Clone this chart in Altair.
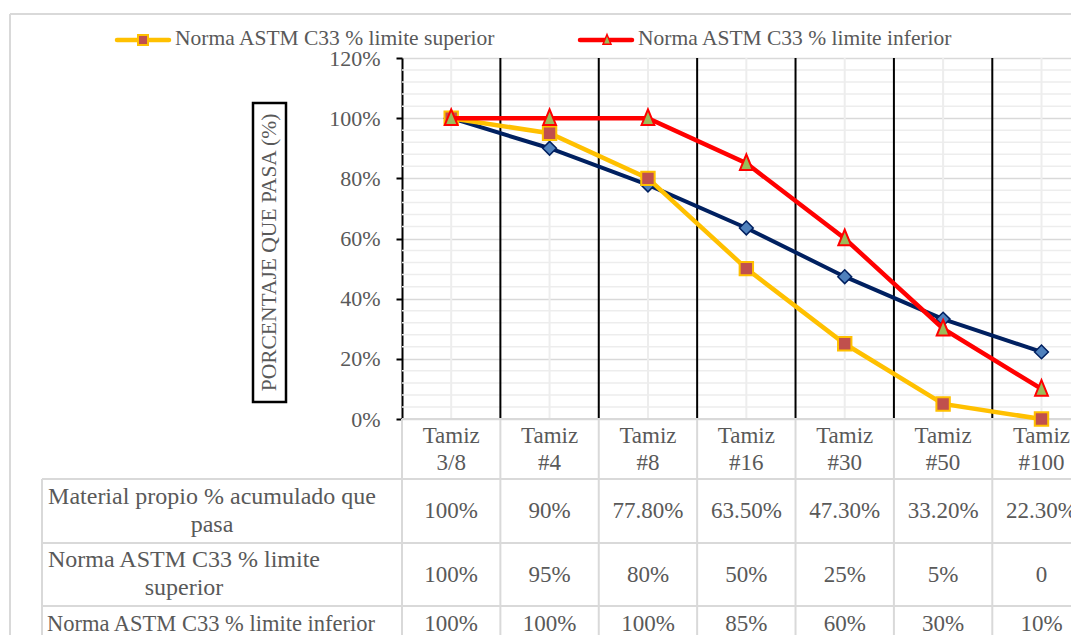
import altair as alt
import pandas as pd

# ---------------- data ----------------
categories = ["Tamiz\n3/8", "Tamiz\n#4", "Tamiz\n#8", "Tamiz\n#16", "Tamiz\n#30", "Tamiz\n#50", "Tamiz\n#100"]
material = [100, 90, 77.8, 63.5, 47.3, 33.2, 22.3]
superior = [100, 95, 80, 50, 25, 5, 0]
inferior = [100, 100, 100, 85, 60, 30, 10]
material_labels = ["100%", "90%", "77.80%", "63.50%", "47.30%", "33.20%", "22.30%"]
superior_labels = ["100%", "95%", "80%", "50%", "25%", "5%", "0"]
inferior_labels = ["100%", "100%", "100%", "85%", "60%", "30%", "10%"]
row_labels = ["Material propio % acumulado que\npasa", "Norma ASTM C33 % limite\nsuperior", "Norma ASTM C33 % limite inferior"]
legend_labels = ["Norma ASTM C33 % limite superior", "Norma ASTM C33 % limite inferior"]
y_title = "PORCENTAJE QUE PASA (%)"
y_ticks = [0, 20, 40, 60, 80, 100, 120]
y_minor = [v for v in range(0, 121, 4) if v % 20]

df = pd.DataFrame({
    "idx": list(range(len(categories))),
    "cat": categories,
    "material": material,
    "superior": superior,
    "inferior": inferior,
    "mlab": material_labels,
    "slab": superior_labels,
    "ilab": inferior_labels,
})
bounds = pd.DataFrame({"b": [i + 0.5 for i in range(len(categories) - 1)]})
table_bounds = pd.DataFrame({"b": [-0.5] + [i + 0.5 for i in range(len(categories) - 1)]})

# ---------------- style ----------------
FONT = "Liberation Serif"
GRAY = "#595959"
NAVY = "#002060"
YELLOW = "#FFC000"
RED = "#FF0000"
W, H = 669, 361
BOTTOM = 577
TRI = "M0,-1.1L0.8,0.85L-0.8,0.85Z"

xs = alt.Scale(domain=[-0.5, 6.3], nice=False, zero=False)
ys = alt.Scale(domain=[0, 120], nice=False, zero=False)
yax = alt.Axis(values=y_ticks, labelExpr="datum.value + '%'", title=None,
               domainColor="black", domainWidth=2, tickColor="black", tickWidth=2,
               tickSize=6, labelPadding=16, labelFont=FONT, labelFontSize=22,
               labelColor=GRAY, grid=True, gridColor="#d9d9d9", gridWidth=1.5)


def X(f):
    return alt.X(f, scale=xs, axis=None)


def Y(f):
    return alt.Y(f, scale=ys, axis=yax)


base = alt.Chart(df)


def one(**cols):
    return alt.Chart(pd.DataFrame({k: [v] for k, v in cols.items()} or {"k": [0]}))


layers = []
# grid
layers.append(alt.Chart(pd.DataFrame({"v": y_minor})).mark_rule(color="#ededed", strokeWidth=1.5).encode(y=Y("v:Q")))
layers.append(base.mark_rule(color="#ededed", strokeWidth=2).encode(x=X("idx:Q")))
layers.append(alt.Chart(bounds).mark_rule(color="black", strokeWidth=2).encode(x=X("b:Q")))

# outer border
layers.append(one().mark_rule(color="#d9d9d9", strokeWidth=2).encode(
    x=alt.value(-392), x2=alt.value(W), y=alt.value(-44)))
layers.append(one().mark_rule(color="#d9d9d9", strokeWidth=2).encode(
    x=alt.value(-392), y=alt.value(-44), y2=alt.value(BOTTOM)))

# table grid
layers.append(alt.Chart(table_bounds).mark_rule(color="#d9d9d9", strokeWidth=2).encode(
    x=X("b:Q"), y=alt.value(H), y2=alt.value(BOTTOM)))
layers.append(one().mark_rule(color="#d9d9d9", strokeWidth=2).encode(
    x=alt.value(0), x2=alt.value(W), y=alt.value(H)))
for yy in [421, 485, 548]:
    layers.append(one().mark_rule(color="#d9d9d9", strokeWidth=2).encode(
        x=alt.value(-360), x2=alt.value(W), y=alt.value(yy)))
layers.append(one().mark_rule(color="#d9d9d9", strokeWidth=2).encode(
    x=alt.value(-360), y=alt.value(421), y2=alt.value(BOTTOM)))

# series
layers.append(base.mark_line(color=NAVY, strokeWidth=4).encode(x=X("idx:Q"), y=Y("material:Q")))
layers.append(base.mark_point(shape="diamond", size=190, filled=True, fill="#4F81BD", stroke=NAVY,
                              strokeWidth=1.5, opacity=1).encode(x=X("idx:Q"), y=Y("material:Q")))
layers.append(base.mark_line(color=YELLOW, strokeWidth=4.5).encode(x=X("idx:Q"), y=Y("superior:Q")))
layers.append(base.mark_point(shape="square", size=180, filled=True, fill="#C0504D", stroke=YELLOW,
                              strokeWidth=2, opacity=1).encode(x=X("idx:Q"), y=Y("superior:Q")))
layers.append(base.mark_line(color=RED, strokeWidth=4.5).encode(x=X("idx:Q"), y=Y("inferior:Q")))
layers.append(base.mark_point(shape=TRI, size=256, filled=True, fill="#9BBB59", stroke=RED,
                              strokeWidth=2, opacity=1).encode(x=X("idx:Q"), y=Y("inferior:Q")))

# table text
txt = dict(font=FONT, fontSize=23, color=GRAY, baseline="middle", align="center")
layers.append(base.mark_text(lineBreak="\n", lineHeight=27, **txt).encode(
    x=X("idx:Q"), y=alt.value(378), text="cat:N"))
for field, yy in [("mlab", 453), ("slab", 517), ("ilab", 566)]:
    layers.append(base.mark_text(**txt).encode(x=X("idx:Q"), y=alt.value(yy), text=f"{field}:N"))
for lab, cx, cy, fs in zip(row_labels, [-190, -218, -191], [439, 502, 566], [24, 24, 22.5]):
    layers.append(one(t=lab).mark_text(lineBreak="\n", lineHeight=28, **dict(txt, fontSize=fs)).encode(
        x=alt.value(cx), y=alt.value(cy), text="t:N"))

# y title with box
layers.append(one().mark_rect(fillOpacity=0, stroke="black", strokeWidth=2.5).encode(
    x=alt.value(-149), x2=alt.value(-116), y=alt.value(45), y2=alt.value(344)))
layers.append(one(t=y_title).mark_text(font=FONT, fontSize=21.5, color=GRAY, angle=270,
                                       baseline="middle", align="center").encode(
    x=alt.value(-132.5), y=alt.value(194.5), text="t:N"))

# legend
layers.append(one().mark_rule(color=YELLOW, strokeWidth=4.5, strokeCap="round").encode(
    x=alt.value(-285), x2=alt.value(-233), y=alt.value(-18)))
layers.append(one().mark_point(shape="square", size=100, filled=True, fill="#C0504D", stroke=YELLOW,
                               strokeWidth=2, opacity=1).encode(x=alt.value(-259), y=alt.value(-18)))
layers.append(one(t=legend_labels[0]).mark_text(font=FONT, fontSize=21.5, color=GRAY, baseline="middle",
                                                align="left").encode(
    x=alt.value(-227), y=alt.value(-19), text="t:N"))
layers.append(one().mark_rule(color=RED, strokeWidth=4.5, strokeCap="round").encode(
    x=alt.value(178), x2=alt.value(230), y=alt.value(-18)))
layers.append(one().mark_point(shape=TRI, size=100, filled=True, fill="#9BBB59", stroke=RED,
                               strokeWidth=1.5, opacity=1).encode(x=alt.value(205), y=alt.value(-18)))
layers.append(one(t=legend_labels[1]).mark_text(font=FONT, fontSize=21.5, color=GRAY, baseline="middle",
                                                align="left").encode(
    x=alt.value(236), y=alt.value(-19), text="t:N"))

chart = alt.layer(*layers).properties(
    width=W, height=H,
    autosize=alt.AutoSizeParams(type="none"),
    padding={"left": 394, "top": 50, "right": 0, "bottom": BOTTOM - H},
).configure_view(strokeWidth=0)

chart.save("out.html", embed_options={"renderer": "svg", "actions": False})
